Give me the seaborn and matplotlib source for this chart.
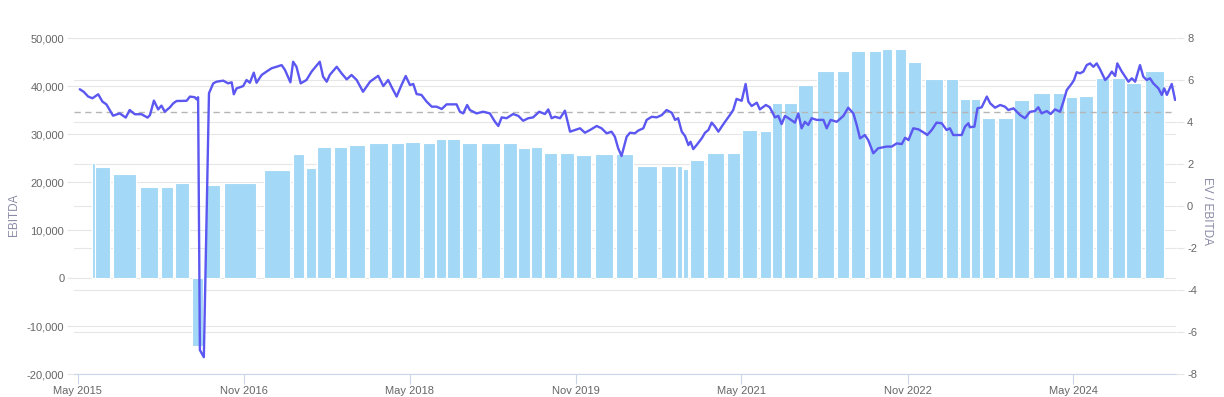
import matplotlib
matplotlib.use('Agg')
import matplotlib.pyplot as plt
import matplotlib.dates as mdates
import matplotlib.ticker as mticker
import pandas as pd
import seaborn as sns

# ---------------- data ----------------
xtick_labels = ['May 2015', 'Nov 2016', 'May 2018', 'Nov 2019', 'May 2021', 'Nov 2022', 'May 2024']
left_ticks = [-20000, -10000, 0, 10000, 20000, 30000, 40000, 50000]
right_ticks = [-8, -6, -4, -2, 0, 2, 4, 6, 8]
ev_median = 4.49

bar_start = ['2015-06-16', '2015-06-28', '2015-08-26', '2015-11-22', '2016-01-29', '2016-03-17', '2016-05-12',
             '2016-06-24', '2016-08-25', '2017-01-05', '2017-04-11', '2017-05-22', '2017-06-30', '2017-08-25',
             '2017-10-14', '2017-12-17', '2018-02-28', '2018-04-17', '2018-06-15', '2018-07-26', '2018-09-02',
             '2018-10-20', '2018-12-23', '2019-03-06', '2019-04-25', '2019-06-06', '2019-07-18', '2019-09-09',
             '2019-11-02', '2020-01-04', '2020-03-13', '2020-05-20', '2020-08-08', '2020-09-29', '2020-10-19',
             '2020-11-12', '2021-01-08', '2021-03-15', '2021-05-04', '2021-07-02', '2021-08-09', '2021-09-19',
             '2021-11-05', '2022-01-05', '2022-03-13', '2022-04-28', '2022-06-26', '2022-08-09', '2022-09-19',
             '2022-11-02', '2022-12-29', '2023-03-08', '2023-04-24', '2023-05-30', '2023-07-05', '2023-08-27',
             '2023-10-19', '2023-12-19', '2024-02-25', '2024-04-07', '2024-05-21', '2024-07-15', '2024-09-07',
             '2024-10-24', '2024-12-25']
bar_end = ['2015-06-28', '2015-08-14', '2015-11-08', '2016-01-20', '2016-03-11', '2016-05-02', '2016-06-18',
           '2016-08-11', '2016-12-09', '2017-04-02', '2017-05-17', '2017-06-24', '2017-08-15', '2017-10-07',
           '2017-12-04', '2018-02-17', '2018-04-11', '2018-06-04', '2018-07-24', '2018-08-28', '2018-10-14',
           '2018-12-10', '2019-02-25', '2019-04-20', '2019-06-02', '2019-07-12', '2019-09-01', '2019-10-25',
           '2019-12-22', '2020-03-02', '2020-05-08', '2020-07-25', '2020-09-27', '2020-10-16', '2020-11-07',
           '2020-12-28', '2021-03-05', '2021-04-27', '2021-06-22', '2021-08-06', '2021-09-11', '2021-10-31',
           '2021-12-24', '2022-03-04', '2022-04-22', '2022-06-15', '2022-08-06', '2022-09-11', '2022-10-27',
           '2022-12-17', '2023-02-25', '2023-04-16', '2023-05-26', '2023-06-30', '2023-08-17', '2023-10-14',
           '2023-12-08', '2024-02-15', '2024-04-02', '2024-05-13', '2024-07-06', '2024-08-29', '2024-10-18',
           '2024-12-12', '2025-02-26']
ebitda = [23900, 23100, 21600, 18900, 18900, 19800, -14200,
          19450, 19800, 22500, 25900, 22850, 27200, 27200,
          27700, 28060, 28060, 28400, 28200, 28960, 28960,
          28200, 28060, 28060, 27150, 27200, 26100, 26100,
          25700, 25830, 25830, 23300, 23300, 23300, 22650,
          24580, 26040, 26040, 30830, 30700, 36400, 36400,
          40280, 43060, 43060, 47350, 47350, 47700, 47700,
          45000, 41400, 41400, 37290, 37290, 33330, 33330,
          37080, 38600, 38600, 37700, 37900, 41670, 41670,
          40690, 43190]

ev_dates = [
    '2015-05-07', '2015-05-20', '2015-06-04', '2015-06-18', '2015-07-07', '2015-07-21', '2015-08-03', '2015-08-14',
    '2015-08-25', '2015-09-16', '2015-10-06', '2015-10-19', '2015-11-05', '2015-11-27', '2015-12-17', '2015-12-25',
    '2016-01-07', '2016-01-21', '2016-02-01', '2016-02-12', '2016-02-29', '2016-03-11', '2016-03-22', '2016-04-24',
    '2016-05-05', '2016-05-21', '2016-05-27', '2016-06-01', '2016-06-07', '2016-06-20', '2016-07-07', '2016-07-21',
    '2016-08-01', '2016-08-23', '2016-09-08', '2016-09-20', '2016-09-27', '2016-10-06', '2016-10-28', '2016-11-08',
    '2016-11-19', '2016-12-02', '2016-12-11', '2016-12-28',
    '2017-01-13', '2017-01-30', '2017-02-15', '2017-03-04', '2017-03-15', '2017-04-02', '2017-04-11', '2017-04-22',
    '2017-05-06', '2017-05-25', '2017-06-11', '2017-07-08', '2017-07-19', '2017-07-31', '2017-08-10', '2017-09-02',
    '2017-09-18', '2017-10-05', '2017-10-21', '2017-11-07', '2017-11-28', '2017-12-21',
    '2018-01-17', '2018-02-03', '2018-02-19', '2018-03-02', '2018-03-19', '2018-04-04', '2018-04-18', '2018-05-02',
    '2018-05-13', '2018-05-24', '2018-06-09', '2018-06-26', '2018-07-13', '2018-07-29', '2018-08-15', '2018-08-31',
    '2018-10-03', '2018-10-14', '2018-10-25', '2018-11-07', '2018-11-16', '2018-12-08', '2018-12-30',
    '2019-01-21', '2019-02-07', '2019-02-18', '2019-03-01', '2019-03-17', '2019-04-08', '2019-04-25', '2019-05-11',
    '2019-05-28', '2019-06-13', '2019-07-03', '2019-07-22', '2019-08-02', '2019-08-13', '2019-08-24', '2019-09-10',
    '2019-09-26', '2019-10-13', '2019-10-29', '2019-11-15', '2019-12-01', '2019-12-18',
    '2020-01-09', '2020-01-25', '2020-02-11', '2020-02-27', '2020-03-09', '2020-03-20', '2020-03-31', '2020-04-17',
    '2020-04-28', '2020-05-14', '2020-05-25', '2020-06-11', '2020-06-22', '2020-07-09', '2020-07-25', '2020-08-11',
    '2020-08-27', '2020-09-13', '2020-09-24', '2020-10-04', '2020-10-16', '2020-10-27', '2020-11-07', '2020-11-14',
    '2020-11-23', '2020-12-04', '2020-12-21',
    '2021-01-01', '2021-01-12', '2021-01-23', '2021-02-03', '2021-02-14', '2021-02-25', '2021-03-08', '2021-03-24',
    '2021-04-04', '2021-04-15', '2021-05-02', '2021-05-15', '2021-05-24', '2021-06-04', '2021-06-21', '2021-07-01',
    '2021-07-21', '2021-08-03', '2021-08-20', '2021-08-31', '2021-09-11', '2021-09-22', '2021-10-09', '2021-10-25',
    '2021-11-05', '2021-11-16', '2021-11-27', '2021-12-08', '2021-12-19',
    '2022-01-05', '2022-01-27', '2022-02-07', '2022-02-20', '2022-03-12', '2022-04-03', '2022-04-19', '2022-05-06',
    '2022-05-17', '2022-05-28', '2022-06-13', '2022-06-24', '2022-07-11', '2022-07-27', '2022-08-24', '2022-09-10',
    '2022-09-26', '2022-10-13', '2022-10-24', '2022-11-04', '2022-11-20', '2022-12-07', '2022-12-29',
    '2023-01-05', '2023-01-20', '2023-02-05', '2023-02-22', '2023-03-10', '2023-03-21', '2023-04-01', '2023-04-29',
    '2023-05-10', '2023-05-21', '2023-05-26', '2023-06-10', '2023-06-20', '2023-07-04', '2023-07-21', '2023-08-01',
    '2023-08-17', '2023-09-03', '2023-09-19', '2023-09-30', '2023-10-17', '2023-10-28', '2023-11-08', '2023-11-24',
    '2023-12-11', '2023-12-27',
    '2024-01-07', '2024-01-18', '2024-02-04', '2024-02-17', '2024-03-02', '2024-03-19', '2024-03-30', '2024-04-10',
    '2024-04-27', '2024-05-04', '2024-05-13', '2024-05-24', '2024-06-04', '2024-06-15', '2024-06-26', '2024-07-07',
    '2024-07-18', '2024-07-29', '2024-08-15', '2024-08-26', '2024-09-06', '2024-09-17', '2024-09-24', '2024-10-09',
    '2024-10-20', '2024-10-31', '2024-11-11', '2024-11-22', '2024-12-08', '2024-12-19', '2024-12-30',
    '2025-01-10', '2025-01-21', '2025-02-07', '2025-02-18', '2025-02-26', '2025-03-07', '2025-03-15', '2025-03-23',
    '2025-04-03']
ev_ebitda = [
    5.56, 5.44, 5.21, 5.13, 5.32, 4.97, 4.84, 4.57, 4.30, 4.41, 4.21, 4.57, 4.37, 4.37, 4.21, 4.33,
    5.02, 4.60, 4.78, 4.49, 4.70, 4.89, 5.00, 5.01, 5.21, 5.18, 5.08, 5.18, -6.86, -7.20, 5.37, 5.84,
    5.92, 5.97, 5.84, 5.89, 5.32, 5.60, 5.71, 6.00, 5.87, 6.35, 5.87, 6.24,
    6.40, 6.56, 6.63, 6.71, 6.48, 5.89, 6.87, 6.63, 5.84, 6.00, 6.40, 6.87, 6.16, 5.92, 6.24, 6.63,
    6.32, 6.03, 6.24, 6.00, 5.44, 5.92,
    6.20, 5.71, 6.00, 5.68, 5.21, 5.76, 6.19, 5.76, 5.81, 5.33, 5.29, 4.97, 4.73, 4.73, 4.62, 4.84,
    4.84, 4.49, 4.41, 4.81, 4.57, 4.41, 4.49,
    4.41, 4.01, 3.81, 4.22, 4.18, 4.38, 4.29, 4.06, 4.18, 4.22, 4.49, 4.38, 4.60, 4.18, 4.25, 4.18,
    4.54, 3.54, 3.62, 3.70, 3.49, 3.62,
    3.81, 3.70, 3.46, 3.54, 3.30, 2.75, 2.38, 3.30, 3.49, 3.46, 3.59, 3.70, 4.10, 4.25, 4.22, 4.33,
    4.57, 4.44, 4.10, 4.18, 3.54, 3.33, 2.90, 3.06, 2.71, 2.90, 3.22,
    3.49, 3.62, 3.97, 3.78, 3.54, 3.78, 4.01, 4.33, 4.57, 5.10, 5.01, 5.81, 4.97, 4.76, 4.92, 4.60,
    4.81, 4.70, 4.22, 4.29, 3.90, 4.29, 4.13, 3.97, 4.41, 3.70, 4.01, 3.86, 4.18,
    4.10, 4.10, 3.70, 4.10, 4.01, 4.29, 4.68, 4.41, 3.86, 3.22, 3.38, 3.14, 2.51, 2.75, 2.83, 2.83,
    2.98, 2.95, 3.25, 3.14, 3.70, 3.65, 3.46,
    3.38, 3.62, 3.97, 3.94, 3.62, 3.70, 3.38, 3.38, 3.78, 3.94, 3.75, 3.78, 4.65, 4.70, 5.21, 4.89,
    4.68, 4.81, 4.73, 4.57, 4.65, 4.49, 4.33, 4.18, 4.49, 4.52,
    4.70, 4.41, 4.52, 4.38, 4.60, 4.49, 4.97, 5.52, 5.84, 6.00, 6.37, 6.32, 6.40, 6.71, 6.79, 6.63,
    6.79, 6.51, 6.00, 6.16, 6.40, 6.19, 6.79, 6.40, 6.16, 5.92, 6.08, 5.92, 6.71, 6.16, 6.00,
    6.08, 5.84, 5.60, 5.29, 5.60, 5.29, 5.56, 5.81, 5.05]

x_range = ['2015-04-18', '2025-04-06']

# ---------------- style ----------------
BAR = '#a3d8f6'
LINE = '#5b57f0'
GRID = '#e6e6e6'
TICK = '#666666'
TITLE = '#8a8aa6'

sns.set_theme(style='white')
plt.rcParams['font.family'] = ['Liberation Sans', 'DejaVu Sans']
plt.rcParams['axes.unicode_minus'] = False

W, H = 1224, 397
fig = plt.figure(figsize=(W / 100, H / 100), dpi=100)
ax = fig.add_axes([74 / W, 23 / H, 1102 / W, 336 / H])
ax2 = ax.twinx()

# bars (EBITDA, left axis)
starts = mdates.date2num(pd.to_datetime(bar_start))
ends = mdates.date2num(pd.to_datetime(bar_end))
ax.bar(starts, ebitda, width=ends - starts, align='edge', color=BAR,
       edgecolor='white', linewidth=0.8, zorder=2)

# grid lines: left axis and right axis (both drawn below the bars)
ax.set_ylim(left_ticks[0], left_ticks[-1])
ax.set_yticks(left_ticks)
ax.yaxis.set_major_formatter(mticker.FuncFormatter(lambda v, p: f'{v:,.0f}'))
ax.grid(axis='y', color=GRID, linewidth=0.8)
ax.grid(axis='x', visible=False)
ax.set_axisbelow(True)
rmin, rmax = right_ticks[0], right_ticks[-1]
for v in right_ticks:
    f = (v - rmin) / (rmax - rmin)
    ax.plot([0, 1], [f, f], transform=ax.transAxes, color=GRID, linewidth=0.8, zorder=0.5)

# line (EV / EBITDA, right axis)
df = pd.DataFrame({'date': mdates.date2num(pd.to_datetime(ev_dates)), 'ev': ev_ebitda})
ax2.axhline(ev_median, color='#b5b5b5', linewidth=1.0, linestyle=(0, (4.5, 3.2)), zorder=2)
sns.lineplot(data=df, x='date', y='ev', ax=ax2, color=LINE, linewidth=1.7, zorder=3)
ax2.set_ylim(rmin, rmax)
ax2.set_yticks(right_ticks)
ax2.yaxis.set_major_formatter(mticker.FuncFormatter(lambda v, p: f'{v:.0f}'))
ax2.grid(False)

# x axis
ax.set_xlim(mdates.date2num(pd.to_datetime(x_range)))
tick_pos = mdates.date2num(pd.to_datetime(xtick_labels, format='%b %Y'))
ax.set_xticks(tick_pos)
ax.set_xticklabels(xtick_labels)
ax2.set_xlabel('')

for a in (ax, ax2):
    for s in a.spines.values():
        s.set_visible(False)
ax.spines['bottom'].set_visible(True)
ax.spines['bottom'].set_color('#ccd6eb')
ax.spines['bottom'].set_linewidth(0.8)

ax.tick_params(axis='x', bottom=True, length=7, width=0.8, color='#ccd6eb',
               labelcolor=TICK, labelsize=8, pad=1.5)
ax.tick_params(axis='y', left=True, length=5, width=0.8, color=GRID,
               labelcolor=TICK, labelsize=8, pad=2)
ax2.tick_params(axis='y', right=True, length=6, width=0.8, color=GRID,
                labelcolor=TICK, labelsize=8, pad=2)

ax.set_ylabel('EBITDA', color=TITLE, fontsize=8.5, va='center', ha='center')
ax.yaxis.set_label_coords((14 - 74) / 1102, (374 - 215) / 336)
ax2.set_ylabel('EV / EBITDA', color=TITLE, fontsize=8.5, rotation=270, va='center', ha='center')
ax2.yaxis.set_label_coords((1207 - 74) / 1102, (374 - 211) / 336)

fig.savefig('out.png', dpi=100)
